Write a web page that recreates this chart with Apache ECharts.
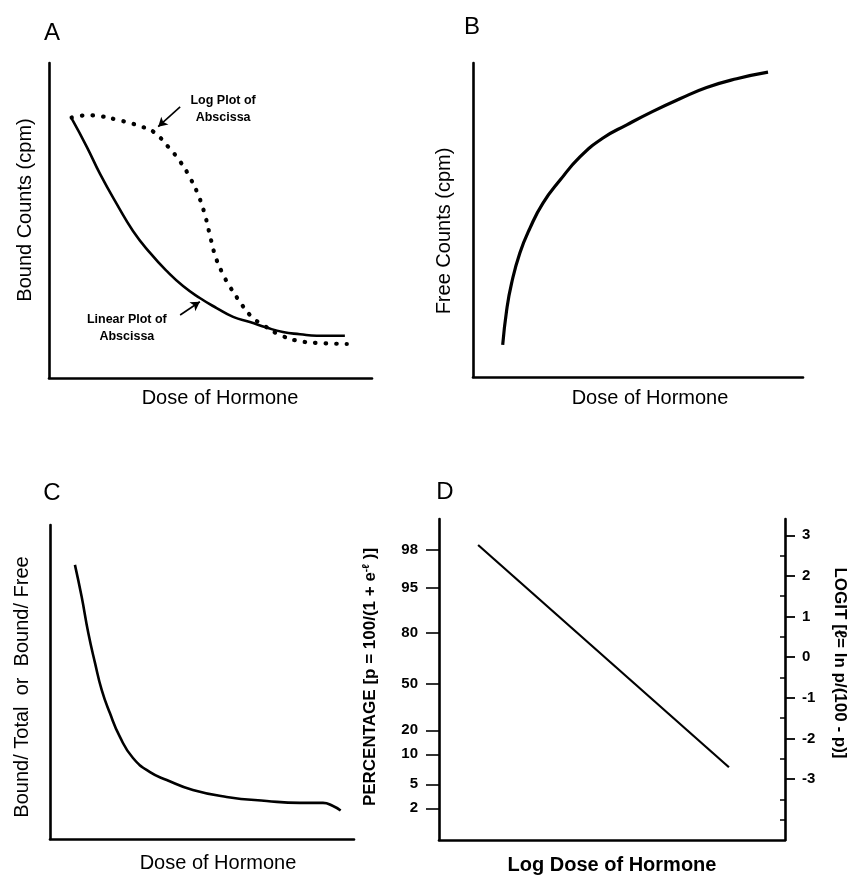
<!DOCTYPE html>
<html>
<head>
<meta charset="utf-8">
<script src="https://cdn.jsdelivr.net/npm/echarts@6/dist/echarts.min.js"></script>
<style>
html,body{margin:0;padding:0;background:#fff;}
#chart{width:850px;height:877px;}
</style>
</head>
<body>
<div id="chart"></div>
<script>
// ---------- Panel A: bound counts vs dose ----------
const aLinearDose  = [7.0, 11.7, 15.8, 21.0, 26.0, 31.3, 36.4, 41.5, 46.7, 51.9, 57.0, 62.2, 67.4, 72.4, 77.7, 82.9, 91.6];
const aLinearBound = [82.4, 73.4, 64.8, 55.2, 46.7, 39.7, 34.0, 29.2, 25.4, 22.2, 19.4, 17.8, 16.0, 14.6, 13.9, 13.4, 13.4];
const aLogDose  = [7.0, 12.0, 16.0, 21.0, 25.6, 28.7, 32.3, 36.9, 40.6, 43.6, 46.2, 48.3, 49.8, 51.4, 53.5, 56.0, 59.1, 62.2, 66.3, 72.4, 77.7, 83.9, 92.2];
const aLogBound = [82.7, 83.4, 83.1, 82.0, 80.8, 79.8, 78.2, 73.4, 68.7, 63.7, 58.1, 51.7, 45.4, 39.0, 33.7, 29.0, 24.2, 20.0, 16.8, 13.3, 11.7, 11.1, 10.8];
// annotation arrows (data coords: [fromX, fromY, toX, toY])
const aLogArrow = [40.6, 86.1, 33.8, 79.8];
const aLinArrow = [40.6, 20.0, 46.7, 24.2];
const aLogText = 'Log Plot of\nAbscissa';
const aLinText = 'Linear Plot of\nAbscissa';
const aLogTextAt = [53.9, 85.4];
const aLinTextAt = [24.1, 15.9];

// ---------- Panel B: free counts vs dose ----------
const bDose = [9.0, 10.2, 11.7, 14.2, 17.3, 21.2, 26.4, 32.4, 39.4, 46.6, 54.5, 62.7, 70.8, 79.9, 89.4];
const bFree = [10.2, 21.3, 29.9, 39.5, 47.5, 55.4, 62.7, 70.1, 76.1, 80.3, 84.6, 88.6, 92.2, 95.0, 97.1];

// ---------- Panel C: bound/total vs dose ----------
const cDose  = [8.2, 10.4, 12.6, 14.8, 17.0, 19.7, 23.0, 27.3, 32.9, 38.4, 47.0, 58.1, 71.3, 82.2, 89.8, 93.1, 95.6];
const cRatio = [87.3, 77.2, 65.6, 56.1, 47.5, 40.1, 32.5, 25.8, 21.3, 18.8, 15.6, 13.4, 12.1, 11.5, 11.5, 10.5, 9.1];

// ---------- Panel D: logit vs log dose ----------
const dLogDose = [11.3, 83.8];
const dLogit   = [2.76, -2.71];
const pctTickLabels = ['98', '95', '80', '50', '20', '10', '5', '2'];
const pctTickValues = [2.64, 1.70, 0.59, -0.66, -1.80, -2.39, -3.13, -3.72]; // positions on logit scale
const logitTicks = [-3, -2, -1, 0, 1, 2, 3];
const logitMinorTicks = [-4, -3.5, -2.5, -1.5, -0.5, 0.5, 1.5, 2.5];

const FONT = '"Liberation Sans", Arial, Helvetica, sans-serif';
const zip = (xs, ys) => xs.map((x, i) => [x, ys[i]]);

const axisLineStyle = { show: true, onZero: false, lineStyle: { color: '#000', width: 2.6 } };
function plainAxis(gridIndex) {
  return { type: 'value', gridIndex, min: 0, max: 100, axisLine: axisLineStyle,
    axisTick: { show: false }, axisLabel: { show: false }, splitLine: { show: false } };
}

const annLabel = { show: true, position: 'inside', color: '#000', fontFamily: FONT,
  fontSize: 12.5, fontWeight: 'bold', lineHeight: 17, align: 'center', verticalAlign: 'middle' };

const curve = { smooth: 0.5, showSymbol: false };
const gridD = { left: 439, top: 519, width: 346, height: 321 };

const option = {
  animation: false,
  backgroundColor: '#fff',
  textStyle: { fontFamily: FONT },
  grid: [
    { left: 49, top: 63, width: 323, height: 315 },
    { left: 473, top: 63, width: 330, height: 314 },
    { left: 50, top: 525, width: 304, height: 314 },
    gridD,
    Object.assign({}, gridD)   // overlay grid for the inner minor ticks of the logit axis
  ],
  xAxis: [ plainAxis(0), plainAxis(1), plainAxis(2), plainAxis(3),
    { type: 'value', gridIndex: 4, min: 0, max: 100, show: false } ],
  yAxis: [
    plainAxis(0), plainAxis(1), plainAxis(2),
    { // left percentage axis
      type: 'value', gridIndex: 3, position: 'left', min: -4.5, max: 3.4,
      axisLine: axisLineStyle, splitLine: { show: false },
      axisTick: { show: true, inside: false, length: 13, customValues: pctTickValues,
        lineStyle: { color: '#000', width: 1.6 } },
      axisLabel: { show: true, customValues: pctTickValues, margin: 21, color: '#000',
        fontFamily: FONT, fontSize: 15, fontWeight: 'bold',
        formatter: v => {
          let best = 0;
          pctTickValues.forEach((t, i) => { if (Math.abs(t - v) < Math.abs(pctTickValues[best] - v)) best = i; });
          return pctTickLabels[best];
        } }
    },
    { // right logit axis
      type: 'value', gridIndex: 3, position: 'right', min: -4.5, max: 3.4,
      axisLine: axisLineStyle, splitLine: { show: false },
      axisTick: { show: true, inside: false, length: 10, customValues: logitTicks,
        lineStyle: { color: '#000', width: 1.8 } },
      axisLabel: { show: true, customValues: logitTicks, margin: 17, color: '#000',
        fontFamily: FONT, fontSize: 15, fontWeight: 'bold', formatter: v => String(v) }
    },
    { // inner minor ticks on logit axis (overlay grid)
      type: 'value', gridIndex: 4, position: 'right', min: -4.5, max: 3.4,
      axisLine: { show: false, onZero: false }, splitLine: { show: false }, axisLabel: { show: false },
      axisTick: { show: true, inside: true, length: 5, customValues: logitMinorTicks,
        lineStyle: { color: '#000', width: 1.5 } }
    }
  ],
  series: [
    Object.assign({
      type: 'line', xAxisIndex: 0, yAxisIndex: 0, data: zip(aLinearDose, aLinearBound),
      lineStyle: { color: '#000', width: 2.6 },
      markLine: {
        silent: true, symbol: ['none', 'arrow'], symbolSize: [8, 9],
        lineStyle: { color: '#000', width: 1.6, type: 'solid' }, label: { show: false },
        data: [
          [{ coord: [aLogArrow[0], aLogArrow[1]] }, { coord: [aLogArrow[2], aLogArrow[3]] }],
          [{ coord: [aLinArrow[0], aLinArrow[1]] }, { coord: [aLinArrow[2], aLinArrow[3]] }]
        ]
      },
      markPoint: {
        silent: true, symbol: 'circle', symbolSize: 1, itemStyle: { color: 'rgba(0,0,0,0)' },
        label: annLabel,
        data: [
          { coord: aLogTextAt, label: Object.assign({}, annLabel, { formatter: aLogText }) },
          { coord: aLinTextAt, label: Object.assign({}, annLabel, { formatter: aLinText }) }
        ]
      }
    }, curve),
    Object.assign({
      type: 'line', xAxisIndex: 0, yAxisIndex: 0, data: zip(aLogDose, aLogBound),
      lineStyle: { color: '#000', width: 4.2, type: [0.5, 10], cap: 'round' }
    }, curve),
    Object.assign({
      type: 'line', xAxisIndex: 1, yAxisIndex: 1, data: zip(bDose, bFree),
      lineStyle: { color: '#000', width: 3.2 }
    }, curve),
    Object.assign({
      type: 'line', xAxisIndex: 2, yAxisIndex: 2, data: zip(cDose, cRatio),
      lineStyle: { color: '#000', width: 2.6 }
    }, curve),
    {
      type: 'line', xAxisIndex: 3, yAxisIndex: 4, data: zip(dLogDose, dLogit),
      showSymbol: false, lineStyle: { color: '#000', width: 2.2 }
    }
  ],
  graphic: [
    { type: 'text', x: 52, y: 33, style: { text: 'A', font: '24px ' + FONT, fill: '#000', align: 'center', verticalAlign: 'middle' } },
    { type: 'text', x: 472, y: 27, style: { text: 'B', font: '24px ' + FONT, fill: '#000', align: 'center', verticalAlign: 'middle' } },
    { type: 'text', x: 52, y: 493, style: { text: 'C', font: '24px ' + FONT, fill: '#000', align: 'center', verticalAlign: 'middle' } },
    { type: 'text', x: 445, y: 492, style: { text: 'D', font: '24px ' + FONT, fill: '#000', align: 'center', verticalAlign: 'middle' } },

    { type: 'text', x: 220, y: 398, style: { text: 'Dose of Hormone', font: '20px ' + FONT, fill: '#000', align: 'center', verticalAlign: 'middle' } },
    { type: 'text', x: 25, y: 210, rotation: Math.PI / 2, style: { text: 'Bound Counts (cpm)', font: '20px ' + FONT, fill: '#000', align: 'center', verticalAlign: 'middle' } },

    { type: 'text', x: 650, y: 398, style: { text: 'Dose of Hormone', font: '20px ' + FONT, fill: '#000', align: 'center', verticalAlign: 'middle' } },
    { type: 'text', x: 444, y: 231, rotation: Math.PI / 2, style: { text: 'Free Counts (cpm)', font: '20px ' + FONT, fill: '#000', align: 'center', verticalAlign: 'middle' } },

    { type: 'text', x: 218, y: 863, style: { text: 'Dose of Hormone', font: '20px ' + FONT, fill: '#000', align: 'center', verticalAlign: 'middle' } },
    { type: 'text', x: 22, y: 687, rotation: Math.PI / 2, style: { text: 'Bound/ Total  or  Bound/ Free', font: '20px ' + FONT, fill: '#000', align: 'center', verticalAlign: 'middle' } },

    { type: 'text', x: 612, y: 865, style: { text: 'Log Dose of Hormone', font: 'bold 20px ' + FONT, fill: '#000', align: 'center', verticalAlign: 'middle' } },
    { type: 'text', x: 370, y: 677, rotation: Math.PI / 2, style: {
        text: '{a|PERCENTAGE [p = 100/(1 + e}{s|-ℓ}{a| )]}', fill: '#000', align: 'center', verticalAlign: 'middle',
        rich: { a: { fontFamily: FONT, fontSize: 17, fontWeight: 'bold', fill: '#000' },
                s: { fontFamily: FONT, fontSize: 10, fontWeight: 'bold', verticalAlign: 'top', fill: '#000' } } } },
    { type: 'text', x: 840, y: 663, rotation: -Math.PI / 2, style: {
        text: 'LOGIT [ℓ= ln p/(100 - p)]', font: 'bold 17px ' + FONT, fill: '#000', align: 'center', verticalAlign: 'middle' } }
  ]
};

const chart = echarts.init(document.getElementById('chart'), null, { renderer: 'canvas' });
chart.setOption(option);
</script>
</body>
</html>
